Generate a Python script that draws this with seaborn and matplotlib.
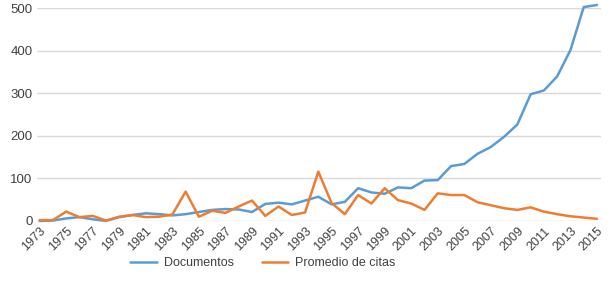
import matplotlib
matplotlib.use("Agg")
import matplotlib.pyplot as plt
import seaborn as sns
import pandas as pd

years = list(range(1973, 2016))
documentos = [0, 1, 6, 9, 4, 0, 9, 14, 18, 16, 13, 16, 21, 26, 28, 27, 21, 40, 43, 39, 48, 57, 39, 45, 77, 67, 64,
              79, 77, 95, 96, 129, 134, 158, 174, 198, 227, 298, 307, 340, 402, 503, 508]
citas = [2, 2, 22, 9, 12, 1, 10, 14, 9, 10, 15, 69, 10, 24, 19, 34, 48, 12, 34, 14, 20, 116, 42, 16, 61, 41, 77,
         49, 41, 26, 65, 61, 61, 44, 37, 30, 26, 32, 22, 16, 11, 8, 5]
series_names = ["Documentos", "Promedio de citas"]
xtick_years = list(range(1973, 2016, 2))
yticks = [0, 100, 200, 300, 400, 500]

df = pd.DataFrame({"Año": years * 2,
                   "Valor": documentos + citas,
                   "Serie": [series_names[0]] * len(years) + [series_names[1]] * len(years)})

sns.set_theme(style="white")
plt.rcParams['font.family'] = ['Liberation Sans', 'DejaVu Sans']

fig = plt.figure(figsize=(6.12, 2.99), dpi=100)
ax = fig.add_axes([0.060, 0.261, 0.922, 0.711])

sns.lineplot(data=df, x="Año", y="Valor", hue="Serie", ax=ax,
             palette=["#5B9BD5", "#ED7D31"], linewidth=1.8, legend=True)
for ln in ax.get_lines():
    ln.set_clip_on(False)

ax.set_xlim(1972.78, 2015.3)
ax.set_ylim(0, 500)
ax.set_yticks(yticks)
ax.set_yticklabels([str(v) for v in yticks], fontsize=9.5, color="#404040")
ax.set_xticks(xtick_years)
ax.set_xticklabels([str(y) for y in xtick_years], rotation=45, ha="right",
                   rotation_mode="anchor", fontsize=9, color="#404040")
ax.yaxis.grid(True, color="#d9d9d9", linewidth=1)
ax.xaxis.grid(False)
for s in ax.spines.values():
    s.set_visible(False)
ax.tick_params(axis="both", length=0, pad=3)
ax.set_xlabel("")
ax.set_ylabel("")

handles, labels = ax.get_legend_handles_labels()
ax.legend_.remove()
fig.legend(handles, labels, loc="center", bbox_to_anchor=(0.43, 0.12), ncol=2, frameon=False,
           fontsize=9, handlelength=2.1, handletextpad=0.6,
           columnspacing=2.2, labelcolor="#404040")

fig.savefig("out.png", dpi=100)
